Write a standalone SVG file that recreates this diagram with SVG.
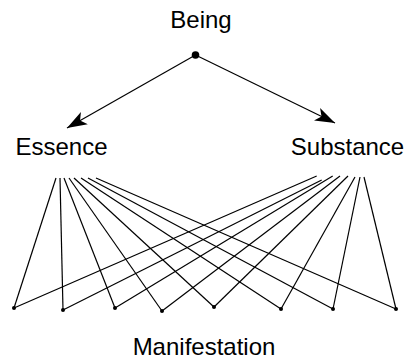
<svg xmlns="http://www.w3.org/2000/svg" width="408" height="361" viewBox="0 0 408 361">
<style>
text{font-family:"Liberation Sans",Arial,Helvetica,sans-serif;font-size:24px;fill:#000;text-anchor:middle}
.l{stroke:#000;stroke-width:1.2;fill:none}
.d{fill:#000}
</style>
<defs>
<marker id="ah" markerWidth="22" markerHeight="16" refX="20" refY="8" orient="auto" markerUnits="userSpaceOnUse">
<path d="M0,1 L20,8 L0,15 L5,8 Z" fill="#000"/>
</marker>
</defs>
<rect width="408" height="361" fill="#fff"/>
<g id="being"><text x="201" y="28">Being</text><circle class="d" cx="195.5" cy="55" r="3.8"/></g>
<g id="essence"><text x="61.5" y="155">Essence</text></g>
<g id="substance"><text x="347.5" y="155">Substance</text></g>
<g id="manifestation"><text x="204" y="355">Manifestation</text>
<circle class="d" cx="14" cy="308" r="2"/>
<circle class="d" cx="63" cy="310" r="2"/>
<circle class="d" cx="115" cy="308" r="2"/>
<circle class="d" cx="162" cy="311" r="2"/>
<circle class="d" cx="214" cy="307" r="2"/>
<circle class="d" cx="281" cy="309" r="2"/>
<circle class="d" cx="333" cy="309" r="2"/>
<circle class="d" cx="396" cy="309" r="2"/>
</g>
<g id="connectors">
<line class="l" x1="195.5" y1="55" x2="67" y2="128" marker-end="url(#ah)"/>
<line class="l" x1="195.5" y1="55" x2="335" y2="123" marker-end="url(#ah)"/>
<line class="l" x1="56" y1="178" x2="14" y2="308"/>
<line class="l" x1="60" y1="178" x2="63" y2="310"/>
<line class="l" x1="64" y1="178" x2="115" y2="308"/>
<line class="l" x1="69" y1="178" x2="162" y2="311"/>
<line class="l" x1="74" y1="178" x2="214" y2="307"/>
<line class="l" x1="81" y1="178" x2="281" y2="309"/>
<line class="l" x1="88" y1="178" x2="333" y2="309"/>
<line class="l" x1="96" y1="178" x2="396" y2="309"/>
<line class="l" x1="316.7" y1="176" x2="14" y2="308"/>
<line class="l" x1="321.7" y1="180" x2="63" y2="310"/>
<line class="l" x1="332.7" y1="176" x2="115" y2="308"/>
<line class="l" x1="340" y1="176" x2="162" y2="311"/>
<line class="l" x1="348" y1="176" x2="214" y2="307"/>
<line class="l" x1="355" y1="177" x2="281" y2="309"/>
<line class="l" x1="360" y1="177" x2="333" y2="309"/>
<line class="l" x1="364" y1="177" x2="396" y2="309"/>
</g>
</svg>
